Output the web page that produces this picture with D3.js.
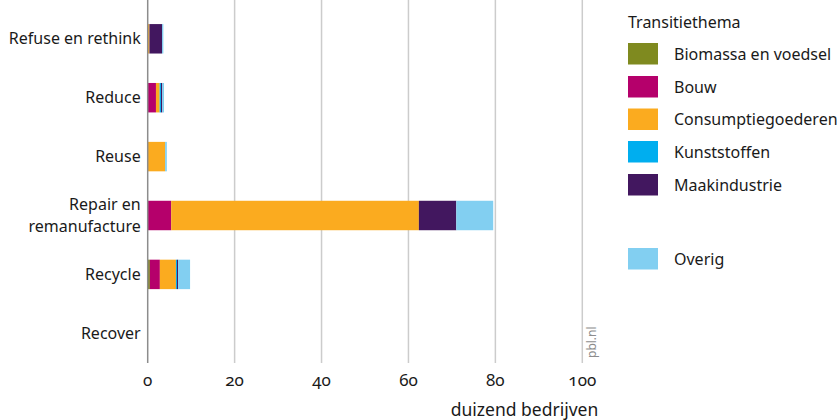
<!DOCTYPE html>
<html>
<head>
<meta charset="utf-8">
<script src="https://cdn.jsdelivr.net/npm/d3@7"></script>
<style>
	body { margin: 0; background: #fff; }
	svg { display: block; font-family: 'Noto Sans', sans-serif; }
	.cat { font-size: 16px; fill: #1a1a1a; }
	.unit { font-size: 17.5px; fill: #1a1a1a; }
	.axis-x text { font-size: 17px; fill: #1a1a1a; font-variant-numeric: oldstyle-nums; }
	.legend text { font-size: 16px; fill: #1a1a1a; }
	.grid line { stroke: #cccccc; stroke-width: 1.5; }
</style>
</head>
<body>
<div id="graphic"></div>
<script>

// categories (y axis)
var categories = ['Refuse en rethink', 'Reduce', 'Reuse', 'Repair en remanufacture', 'Recycle', 'Recover'];

// series values, thousand companies per category
var biomassa      = [0,   0,    0,   0,    0.5,  0];
var bouw          = [0,   1.9,  0,   5.4,  2.3,  0];
var consumptie    = [0.4, 0.85, 4.0, 57.0, 3.7,  0];
var kunststoffen  = [0,   0.3,  0,   0,    0.25, 0];
var maakindustrie = [2.9, 0.3,  0,   8.6,  0.25, 0];
var overig        = [0.3, 0.4,  0.4, 8.5,  2.75, 0];

var seriesNames = ['Biomassa en voedsel', 'Bouw', 'Consumptiegoederen', 'Kunststoffen', 'Maakindustrie', 'Overig'];
var seriesColors = ['#7f8a1f', '#b5006b', '#fbab1f', '#00aeef', '#42175f', '#82cff1'];
var xTicks = [0, 20, 40, 60, 80, 100];

renderGraphic({
	container: 'graphic',
	width: 839,
	height: 420
});

function renderGraphic(config) {

	var margins = { top: 0, left: 147.7, right: 839 - 582.3, bottom: 57 };
	var chartWidth = config.width - margins.left - margins.right;
	var chartHeight = config.height - margins.top - margins.bottom;

	var svg = d3.select('#' + config.container).append('svg')
		.attr('width', config.width)
		.attr('height', config.height);

	var chartElement = svg.append('g')
		.attr('transform', 'translate(' + margins.left + ',' + margins.top + ')');

	var x = d3.scaleLinear().domain([0, 100]).range([0, chartWidth]);
	var y = d3.scaleBand().domain(categories)
		.range([9.35, 362.75])
		.paddingInner(0.5)
		.paddingOuter(0.25);

	// build table for the stack
	var table = categories.map(function(c, i) {
		var row = { cat: c };
		row[seriesNames[0]] = biomassa[i];
		row[seriesNames[1]] = bouw[i];
		row[seriesNames[2]] = consumptie[i];
		row[seriesNames[3]] = kunststoffen[i];
		row[seriesNames[4]] = maakindustrie[i];
		row[seriesNames[5]] = overig[i];
		return row;
	});
	var stacked = d3.stack().keys(seriesNames)(table);

	// gridlines
	chartElement.append('g').attr('class', 'grid')
		.selectAll('line')
		.data(xTicks.slice(1))
		.enter().append('line')
		.attr('x1', function(d) { return x(d); })
		.attr('x2', function(d) { return x(d); })
		.attr('y1', 0)
		.attr('y2', chartHeight);

	// bars
	chartElement.append('g').attr('class', 'bars')
		.selectAll('g')
		.data(stacked)
		.enter().append('g')
		.attr('fill', function(d, i) { return seriesColors[i]; })
		.selectAll('rect')
		.data(function(d) { return d; })
		.enter().append('rect')
		.attr('x', function(d) { return x(d[0]); })
		.attr('width', function(d) { return x(d[1]) - x(d[0]); })
		.attr('y', function(d) { return y(d.data.cat); })
		.attr('height', y.bandwidth());

	// zero axis line
	chartElement.append('line')
		.attr('x1', x(0)).attr('x2', x(0))
		.attr('y1', 0).attr('y2', chartHeight)
		.attr('stroke', '#8c8c8c')
		.attr('stroke-width', 1.5);

	// x tick labels
	var xAxis = chartElement.append('g').attr('class', 'axis-x')
		.attr('transform', 'translate(0,' + chartHeight + ')');
	xAxis.selectAll('text')
		.data(xTicks)
		.enter().append('text')
		.attr('x', function(d) { return x(d); })
		.attr('y', 23)
		.attr('text-anchor', 'middle')
		.text(function(d) { return d; });

	chartElement.append('text')
		.attr('class', 'unit')
		.attr('x', x(100) + 16)
		.attr('y', 416)
		.attr('text-anchor', 'end')
		.text('duizend bedrijven');

	// category labels
	var catLabels = chartElement.append('g').selectAll('text')
		.data(categories)
		.enter().append('text')
		.attr('class', 'cat')
		.attr('text-anchor', 'end')
		.attr('x', -7)
		.attr('y', function(d) { return y(d) + y.bandwidth() / 2 + 5.5; });

	catLabels.each(function(d) {
		var el = d3.select(this);
		if (d == 'Repair en remanufacture') {
			el.append('tspan').attr('x', -7).attr('dy', -11).text('Repair en');
			el.append('tspan').attr('x', -7).attr('dy', 22).text('remanufacture');
		} else {
			el.text(d);
		}
	});

	// source
	chartElement.append('text')
		.attr('transform', 'translate(' + (x(100) + 14) + ',358) rotate(-90)')
		.attr('font-size', 12)
		.attr('fill', '#8c8c8c')
		.text('pbl.nl');

	// legend
	var legend = svg.append('g').attr('class', 'legend')
		.attr('transform', 'translate(628,0)');

	legend.append('text')
		.attr('x', 0).attr('y', 28)
		.text('Transitiethema');

	var legendY = [43, 76, 108.5, 141, 174, 248];
	var items = legend.selectAll('g.item')
		.data(seriesNames)
		.enter().append('g')
		.attr('class', 'item')
		.attr('transform', function(d, i) { return 'translate(0,' + legendY[i] + ')'; });
	items.append('rect')
		.attr('width', 30).attr('height', 21.5)
		.attr('fill', function(d, i) { return seriesColors[i]; });
	items.append('text')
		.attr('x', 46).attr('y', 16.5)
		.text(function(d) { return d; });

}
</script>
</body>
</html>
